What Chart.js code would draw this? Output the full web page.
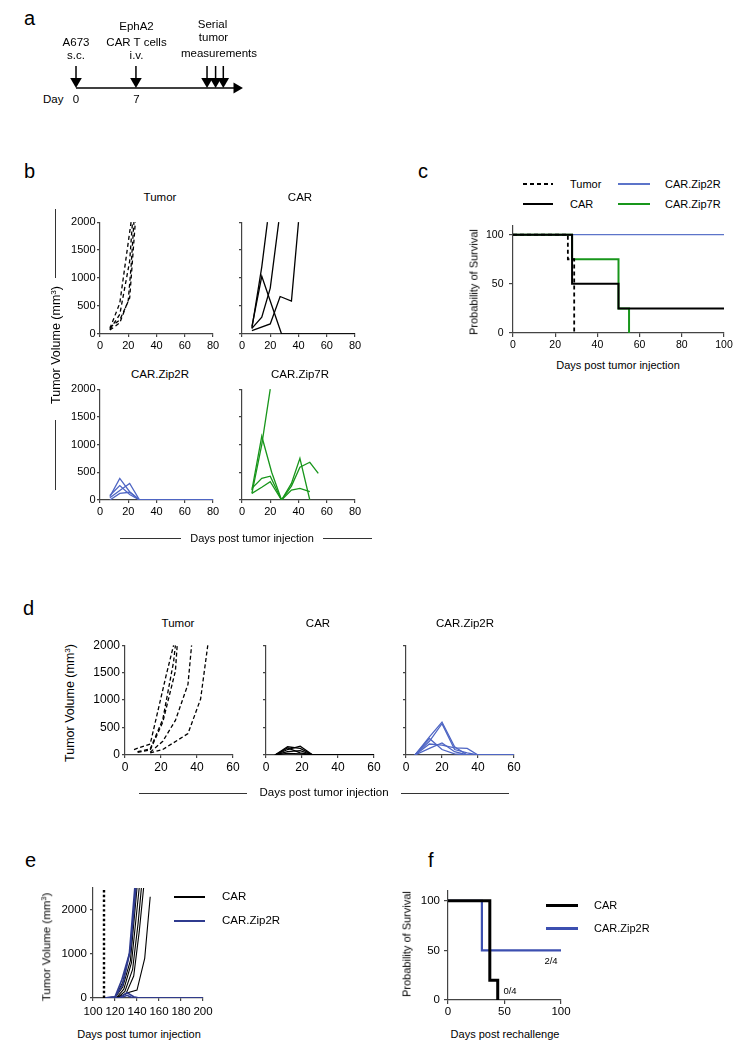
<!DOCTYPE html>
<html>
<head>
<meta charset="utf-8">
<title>EphA2 CAR T cells</title>
<script src="https://cdn.jsdelivr.net/npm/chart.js@4.4.1/dist/chart.umd.min.js"></script>
<style>
  html, body { margin: 0; padding: 0; background: #fff; }
  #page { position: relative; width: 747px; height: 1050px; overflow: hidden; font-family: "Liberation Sans", Arial, sans-serif; }
  #page canvas { position: absolute; }
  .t { position: absolute; white-space: nowrap; line-height: 1; color: #000; }
  .rule { position: absolute; }
  sup { font-size: 0.65em; line-height: 0; vertical-align: 0.5em; }
</style>
</head>
<body>
<div id="page"></div>
<script>
// ---- a: schedule (days) ----
const dosingDays = [0, 7];
const measureDays = [15.3, 16.3, 17.2];
const timelineEnd = 18.5;

// ---- b: tumor volume (mm3) per mouse, [day, volume] ----
const bTumor = [
  [[7, 100], [14, 550], [22, 2000]],
  [[7, 80], [14, 350], [21, 1300], [23, 2000]],
  [[7, 120], [14, 250], [21, 640], [25, 2000]],
  [[7, 70], [14, 200], [20, 600], [22, 1200], [24, 2000]]
];
const bCar = [
  [[7, 130], [14, 1030], [28, 0], [80, 0]],
  [[7, 100], [14, 1200], [18, 2000]],
  [[7, 100], [14, 300], [20, 820], [26, 2000]],
  [[7, 60], [20, 180], [27, 670], [35, 590], [40, 2000]]
];
const bZip2R = [
  [[7, 60], [14, 390], [21, 150], [28, 0], [80, 0]],
  [[7, 80], [14, 260], [21, 100], [28, 0], [80, 0]],
  [[7, 40], [14, 170], [21, 300], [28, 0], [80, 0]],
  [[7, 0], [14, 120], [21, 140], [28, 0], [80, 0]]
];
const bZip7R = [
  [[7, 120], [14, 1000], [20, 2000]],
  [[7, 180], [14, 1150], [21, 500], [28, 0], [35, 300], [41, 750], [48, 0]],
  [[7, 210], [14, 390], [20, 430], [28, 0], [35, 250], [41, 590], [48, 680], [54, 480]],
  [[7, 120], [14, 230], [20, 330], [28, 0], [35, 180], [41, 210], [48, 150]]
];

// ---- c: survival (%) ----
const cTumor = [[0, 100], [26, 75], [29, 0]];
const cCar = [[0, 100], [28, 50], [50, 25], [100, 25]];
const cZip2R = [[0, 100], [100, 100]];
const cZip7R = [[0, 100], [28, 75], [50, 25], [55, 0]];

// ---- d: tumor volume (mm3) per mouse ----
const dTumor = [
  [[5, 100], [14, 200], [23, 1470], [27, 2000]],
  [[7, 50], [14, 90], [21, 600], [28, 1530], [29, 2000]],
  [[7, 60], [14, 110], [21, 650], [27, 1700], [28, 2000]],
  [[14, 50], [21, 250], [28, 630], [35, 1290], [37, 2000]],
  [[14, 40], [21, 100], [35, 390], [42, 1020], [46, 2000]]
];
const dCar = [
  [[5, 0], [12, 150], [19, 120], [26, 0], [60, 0]],
  [[5, 0], [12, 100], [19, 160], [26, 0], [60, 0]],
  [[5, 0], [12, 60], [19, 80], [26, 0], [60, 0]],
  [[5, 0], [12, 130], [19, 40], [26, 0], [60, 0]],
  [[5, 0], [12, 30], [19, 20], [26, 0], [60, 0]]
];
const dZip2R = [
  [[5, 0], [13, 330], [20, 600], [27, 150], [34, 0], [60, 0]],
  [[5, 0], [13, 250], [20, 570], [27, 100], [34, 40], [40, 0], [60, 0]],
  [[5, 0], [13, 200], [20, 180], [27, 130], [34, 120], [40, 0], [60, 0]],
  [[5, 0], [13, 120], [20, 220], [27, 60], [34, 0], [60, 0]],
  [[5, 0], [13, 300], [20, 100], [27, 20], [34, 0], [60, 0]]
];

// ---- e: rechallenge, tumor volume (mm3) ----
const rechallengeDay = 110;
const eCar = [
  [[110, 0], [120, 20], [127, 350], [134, 1100], [139, 2500]],
  [[110, 0], [120, 10], [127, 250], [134, 850], [140, 2500]],
  [[110, 0], [121, 0], [128, 200], [135, 800], [142, 2500]],
  [[110, 0], [122, 0], [129, 150], [136, 650], [141, 1700], [144, 2500]],
  [[110, 0], [123, 0], [130, 100], [137, 500], [142, 1500], [146, 2500]],
  [[110, 0], [120, 0], [127, 60], [133, 130], [140, 180], [147, 900], [152, 2300]]
];
const eZip2R = [
  [[110, 0], [120, 30], [126, 400], [133, 1000], [138, 2500]],
  [[110, 0], [120, 20], [127, 300], [134, 1100], [139, 2500]],
  [[110, 0], [124, 0], [131, 120], [137, 30], [142, 0], [200, 0]],
  [[110, 0], [125, 0], [131, 60], [136, 0], [200, 0]]
];

// ---- f: survival after rechallenge (%) ----
const fCar = [[0, 100], [37, 20], [44, 0]];
const fZip2R = [[0, 100], [30, 50], [100, 50]];

// ---- tick values ----
const volTicks = [0, 500, 1000, 1500, 2000];
const day80Ticks = [0, 20, 40, 60, 80];
const day60Ticks = [0, 20, 40, 60];
const day100Ticks = [0, 20, 40, 60, 80, 100];
const survTicks = [0, 50, 100];
const eVolTicks = [0, 1000, 2000];
const eDayTicks = [100, 120, 140, 160, 180, 200];
const fDayTicks = [0, 50, 100];

// ---------------------------------------------------------------
const FONT = '"Liberation Sans", Arial, sans-serif';
const AX = '#444';
const BLUE = '#4f66c4', BLUE_C = '#5c74c9', GREEN = '#18961b', NAVY = '#2f3b8f', BLUE_F = '#3c4fb0';
Chart.defaults.font.family = FONT;
Chart.defaults.color = '#000';

const page = document.getElementById('page');

function axis(pos, o, size) {
  if (o.hidden) return { type: 'linear', min: o.min, max: o.max, display: false };
  return {
    type: 'linear',
    position: pos === 'x' ? 'bottom' : 'left',
    min: o.min, max: o.max,
    border: { display: true, color: AX, width: 1.2 },
    grid: { drawOnChartArea: false, drawTicks: true, tickLength: o.tick || 3, color: AX, lineWidth: 1.2 },
    ticks: {
      autoSkip: false, maxRotation: 0, minRotation: 0,
      padding: o.pad === undefined ? 2 : o.pad,
      color: '#000',
      font: { family: FONT, size: o.fs || 11 },
      callback: v => (o.blank ? '' : String(v))
    },
    afterBuildTicks: s => { s.ticks = o.ticks.map(v => ({ value: v })); },
    afterFit: s => { if (pos === 'x') s.height = size; else s.width = size; }
  };
}

// box = plot area in page pixels
function chart(box, datasets, xo, yo, pad) {
  pad = Object.assign({ l: 46, r: 12, t: 8, b: 24 }, pad || {});
  const w = box.r - box.l + pad.l + pad.r;
  const h = box.b - box.t + pad.t + pad.b;
  const c = document.createElement('canvas');
  c.width = w; c.height = h;
  c.style.left = (box.l - pad.l) + 'px';
  c.style.top = (box.t - pad.t) + 'px';
  c.style.width = w + 'px';
  c.style.height = h + 'px';
  page.appendChild(c);
  const hidden = !!xo.hidden;
  return new Chart(c, {
    type: 'line',
    data: { datasets },
    options: {
      responsive: false, animation: false, devicePixelRatio: 1,
      layout: {
        autoPadding: false,
        padding: { top: pad.t, right: pad.r, left: hidden ? pad.l : 0, bottom: hidden ? pad.b : 0 }
      },
      plugins: { legend: { display: false }, tooltip: { enabled: false } },
      elements: { point: { radius: 0 }, line: { tension: 0 } },
      scales: { x: axis('x', xo, pad.b), y: axis('y', yo, pad.l) }
    }
  });
}

function lines(groups, color, width, dash, stepped) {
  return groups.map(pts => ({
    data: pts.map(p => ({ x: p[0], y: p[1] })),
    borderColor: color, borderWidth: width, borderDash: dash || [],
    pointRadius: 0, stepped: !!stepped, fill: false
  }));
}

function T(html, x, base, o) {
  o = o || {};
  const fs = o.fs || 11;
  const d = document.createElement('div');
  d.className = 't';
  d.innerHTML = html;
  d.style.fontSize = fs + 'px';
  d.style.left = x + 'px';
  if (o.rot) {
    d.style.top = base + 'px';
    d.style.transform = 'translate(-50%,-50%) rotate(-90deg)';
  } else {
    d.style.top = (base - 0.8465 * fs) + 'px';
    if (o.al !== 'l') d.style.transform = 'translateX(-50%)';
  }
  page.appendChild(d);
}

function rule(x1, y1, x2, y2, bg) {
  const d = document.createElement('div');
  d.className = 'rule';
  d.style.left = x1 + 'px'; d.style.top = y1 + 'px';
  d.style.width = (x2 - x1) + 'px'; d.style.height = (y2 - y1) + 'px';
  d.style.background = bg || '#333';
  page.appendChild(d);
}
const DASH = 'repeating-linear-gradient(90deg,#000 0 4px,transparent 4px 7px)';
const VOL = 'Tumor Volume (mm<sup>3</sup>)';

// ---------------- a ----------------
const aSets = dosingDays.concat(measureDays).map(d => ({
  data: [{ x: d, y: 22 }, { x: d, y: 6.7 }],
  borderColor: '#000', borderWidth: 1.5,
  pointRadius: [0, 6.7], pointStyle: 'triangle', pointRotation: 180,
  pointBackgroundColor: '#000', pointBorderColor: '#000', pointBorderWidth: 0, clip: false
}));
aSets.push({ data: [{ x: 0, y: 0 }, { x: timelineEnd, y: 0 }], borderColor: '#000', borderWidth: 1.7, pointRadius: 0, clip: false });
aSets.push({ data: [{ x: timelineEnd + 0.26, y: 0 }], showLine: false, pointRadius: 6.3, pointStyle: 'triangle',
  pointRotation: 90, pointBackgroundColor: '#000', pointBorderColor: '#000', pointBorderWidth: 0, clip: false });
chart({ l: 76, r: 243, t: 58, b: 88 }, aSets,
  { hidden: true, min: 0, max: 19.5 }, { hidden: true, min: 0, max: 30 }, { l: 10, r: 6, t: 30, b: 6 });

T('a', 24, 25, { fs: 20, al: 'l' });
T('A673', 76, 46.7, { fs: 11.5 });
T('s.c.', 76, 60, { fs: 11.5 });
T('EphA2', 136.5, 30.7, { fs: 11.5 });
T('CAR T cells', 136.5, 46.7, { fs: 11.5 });
T('i.v.', 136.5, 60, { fs: 11.5 });
T('Serial', 212.5, 28.3, { fs: 11.5 });
T('tumor', 213.5, 41.7, { fs: 11.5 });
T('measurements', 219, 57.3, { fs: 11.5 });
T('Day', 43, 104, { fs: 11.5, al: 'l' });
T('0', 76, 104, { fs: 11.5 });
T('7', 136.5, 104, { fs: 11.5 });

// ---------------- b ----------------
const bx = { min: 0, max: 80, ticks: day80Ticks, pad: 2 };
const by = { min: 0, max: 2000, ticks: volTicks, pad: 1.5 };
const byBlank = Object.assign({}, by, { blank: true });
chart({ l: 100, r: 213, t: 222, b: 334 }, lines(bTumor, '#000', 1.3, [4, 3]), bx, by);
chart({ l: 242, r: 355, t: 222, b: 334 }, lines(bCar, '#000', 1.3), bx, byBlank);
chart({ l: 100, r: 213, t: 389, b: 500 }, lines(bZip2R, BLUE, 1.3), bx, by);
chart({ l: 242, r: 355, t: 389, b: 500 }, lines(bZip7R, GREEN, 1.3), bx, byBlank);

T('b', 24, 178, { fs: 20, al: 'l' });
T('Tumor', 160, 202, { fs: 11.5 });
T('CAR', 300, 202, { fs: 11.5 });
T('CAR.Zip2R', 160, 379, { fs: 11.5 });
T('CAR.Zip7R', 300, 379, { fs: 11.5 });
T(VOL, 56, 345, { fs: 12.5, rot: true });
rule(55, 209, 56.4, 278);
rule(55, 420, 56.4, 490);
T('Days post tumor injection', 252, 542, { fs: 11 });
rule(120, 537.5, 181, 538.8);
rule(323, 537.5, 372, 538.8);

// ---------------- c ----------------
chart({ l: 513, r: 724, t: 222, b: 333 },
  lines([cTumor], '#000', 1.8, [4, 3], true)
    .concat(lines([cCar], '#000', 2, null, true))
    .concat(lines([cZip7R], GREEN, 2, null, true))
    .concat(lines([cZip2R], BLUE_C, 1.4, null, true)),
  { min: 0, max: 100, ticks: day100Ticks, tick: 4, pad: 1.7, fs: 10.5 },
  { min: 0, max: 109, ticks: survTicks, tick: 4, pad: 5.5, fs: 10.5 });

T('c', 418, 178, { fs: 20, al: 'l' });
rule(523, 183, 553, 185, DASH);
rule(618, 183.3, 650, 184.8, BLUE_C);
rule(523, 203, 553, 205, '#000');
rule(618, 203, 650, 205, GREEN);
T('Tumor', 570, 188, { fs: 11, al: 'l' });
T('CAR', 570, 208, { fs: 11, al: 'l' });
T('CAR.Zip2R', 665, 188, { fs: 11, al: 'l' });
T('CAR.Zip7R', 665, 208, { fs: 11, al: 'l' });
T('Probability of Survival', 474, 282, { fs: 11, rot: true });
T('Days post tumor injection', 618, 369, { fs: 11 });

// ---------------- d ----------------
const dx = { min: 0, max: 60, ticks: day60Ticks, pad: 2, fs: 12 };
const dy = { min: 0, max: 2000, ticks: volTicks, pad: 2, fs: 12 };
const dyBlank = Object.assign({}, dy, { blank: true });
chart({ l: 125, r: 233, t: 644, b: 755 }, lines(dTumor, '#000', 1.3, [4, 2.5]), dx, dy);
chart({ l: 266, r: 374, t: 644, b: 755 }, lines(dCar, '#000', 1.3), dx, dyBlank);
chart({ l: 406, r: 514, t: 644, b: 755 }, lines(dZip2R, BLUE, 1.3), dx, dyBlank);

T('d', 23, 615, { fs: 20, al: 'l' });
T('Tumor', 178, 627.5, { fs: 11.5 });
T('CAR', 318, 627.5, { fs: 11.5 });
T('CAR.Zip2R', 465, 627.5, { fs: 11.5 });
T(VOL, 70, 703, { fs: 12.5, rot: true });
T('Days post tumor injection', 324, 797, { fs: 11.5 });
rule(139, 792.5, 247, 793.8);
rule(401, 792.5, 509, 793.8);

// ---------------- e ----------------
chart({ l: 93, r: 205, t: 886, b: 998 },
  lines([[[rechallengeDay, 0], [rechallengeDay, 2500]]], '#000', 2.4, [2.4, 2.4])
    .concat(lines(eZip2R, NAVY, 1.6))
    .concat(lines(eCar, '#000', 1.1)),
  { min: 100, max: 200, ticks: eDayTicks, pad: 4.4, fs: 11.5 },
  { min: 0, max: 2500, ticks: eVolTicks, pad: 3, fs: 11.5 });

T('e', 25, 867, { fs: 20, al: 'l' });
rule(174, 896, 205, 898, '#000');
rule(174, 920, 205, 922, NAVY);
T('CAR', 222, 901, { fs: 11.5, al: 'l' });
T('CAR.Zip2R', 222, 925, { fs: 11.5, al: 'l' });
T(VOL, 47, 947, { fs: 11.5, rot: true });
T('Days post tumor injection', 139, 1038, { fs: 11 });

// ---------------- f ----------------
chart({ l: 448, r: 561, t: 888, b: 1000 },
  lines([fCar], '#000', 3, null, true).concat(lines([fZip2R], BLUE_F, 2.2, null, true)),
  { min: 0, max: 100, ticks: fDayTicks, tick: 4, pad: 1, fs: 11.5 },
  { min: 0, max: 110, ticks: survTicks, tick: 4, pad: 4, fs: 11.5 });

T('f', 428, 867, { fs: 20, al: 'l' });
rule(546, 903.5, 578, 906.5, '#000');
rule(546, 927, 578, 929.5, BLUE_F);
T('CAR', 594, 909, { fs: 11, al: 'l' });
T('CAR.Zip2R', 594, 932, { fs: 11, al: 'l' });
T('2/4', 551, 964, { fs: 9.5 });
T('0/4', 510, 994, { fs: 9.5 });
T('Probability of Survival', 407, 944, { fs: 11, rot: true });
T('Days post rechallenge', 505, 1038, { fs: 11 });
</script>
</body>
</html>
